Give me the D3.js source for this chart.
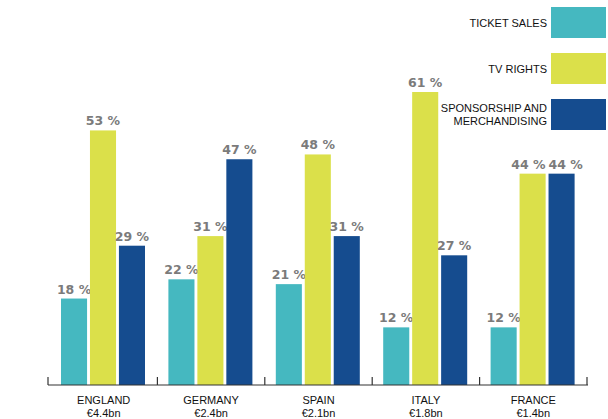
<!DOCTYPE html>
<html>
<head>
<meta charset="utf-8">
<script src="https://cdn.jsdelivr.net/npm/d3@7"></script>
<style>
  body { margin: 0; background: #fff; }
  svg { display: block; }
</style>
</head>
<body>
<div id="chart"></div>
<script>
// data
var countries = ['ENGLAND', 'GERMANY', 'SPAIN', 'ITALY', 'FRANCE'];
var totals = ['€4.4bn', '€2.4bn', '€2.1bn', '€1.8bn', '€1.4bn'];
var seriesNames = ['TICKET SALES', 'TV RIGHTS', 'SPONSORSHIP AND\nMERCHANDISING'];
var seriesColors = ['#45b8c0', '#dbe04a', '#154c8f'];
var ticketSales = [18, 22, 21, 12, 12];
var tvRights = [53, 31, 48, 61, 44];
var sponsorship = [29, 47, 31, 27, 44];

var series = [ticketSales, tvRights, sponsorship];

var width = 608,
    height = 419,
    baseline = 385;

var svg = d3.select('#chart').append('svg')
  .attr('width', width)
  .attr('height', height);

var x0 = d3.scaleBand()
  .domain(countries)
  .range([50, 587]);

var x1 = d3.scaleBand()
  .domain(d3.range(series.length))
  .range([11, 95])
  .paddingInner(0.1);

var y = d3.scaleLinear()
  .domain([0, 61])
  .range([baseline, 92]);

// bars
var groups = svg.selectAll('.group')
  .data(countries)
  .enter().append('g')
  .attr('class', 'group')
  .attr('transform', function(d) { return 'translate(' + x0(d) + ',0)'; });

groups.each(function(c, ci) {
  var g = d3.select(this);
  var labels = [];
  series.forEach(function(s, si) {
    g.append('rect')
      .attr('x', x1(si))
      .attr('y', y(s[ci]))
      .attr('width', x1.bandwidth())
      .attr('height', baseline - y(s[ci]))
      .style('fill', seriesColors[si]);

    var t = g.append('text')
      .attr('x', x1(si) + x1.bandwidth() / 2)
      .attr('y', y(s[ci]) - 5)
      .style('text-anchor', 'middle')
      .style('font-family', '"DejaVu Sans", sans-serif')
      .style('font-weight', 'bold')
      .style('font-size', '12.5px')
      .style('fill', '#7b7b7b')
      .text(s[ci] + ' %');
    labels.push({node: t, cx: x1(si) + x1.bandwidth() / 2, v: s[ci]});
  });

  // push apart labels that sit at the same height and would collide
  for (var i = 1; i < labels.length; i++) {
    var a = labels[i - 1], b = labels[i];
    if (Math.abs(y(a.v) - y(b.v)) < 14) {
      var w = a.node.node().getComputedTextLength() / 2 + b.node.node().getComputedTextLength() / 2 + 3;
      var gap = b.cx - a.cx;
      if (gap < w) {
        var shift = (w - gap) / 2;
        a.node.attr('x', a.cx - shift);
        b.node.attr('x', b.cx + shift);
      }
    }
  }

  g.append('text')
    .attr('x', x0.bandwidth() / 2)
    .attr('y', 404)
    .style('text-anchor', 'middle')
    .style('font-family', '"Liberation Sans", Arial, sans-serif')
    .style('font-size', '11px')
    .style('fill', '#111')
    .text(c);

  g.append('text')
    .attr('x', x0.bandwidth() / 2)
    .attr('y', 417)
    .style('text-anchor', 'middle')
    .style('font-family', '"Liberation Sans", Arial, sans-serif')
    .style('font-size', '11px')
    .style('fill', '#111')
    .text(totals[ci]);
});

// axis line with upward ticks at band edges
var axisG = svg.append('g').attr('transform', 'translate(0,' + baseline + ')');
axisG.append('line')
  .attr('x1', 48).attr('x2', 588)
  .attr('y1', 0).attr('y2', 0)
  .style('stroke', '#333').style('stroke-width', 1.2);

var edges = countries.map(function(d) { return x0(d); }).concat([x0.range()[1]]);
edges[0] = 48;
axisG.selectAll('.tick')
  .data(edges)
  .enter().append('line')
  .attr('x1', function(d) { return d; })
  .attr('x2', function(d) { return d; })
  .attr('y1', 0).attr('y2', -8)
  .style('stroke', '#333').style('stroke-width', 1.2);

// legend
var legend = svg.append('g');
seriesNames.forEach(function(name, i) {
  var top = 7 + i * 46;
  legend.append('rect')
    .attr('x', 551).attr('y', top)
    .attr('width', 55).attr('height', 31)
    .style('fill', seriesColors[i]);

  var lines = name.split('\n');
  var t = legend.append('text')
    .attr('x', 547)
    .attr('y', top + 15.5 - (lines.length - 1) * 6.5 + 4)
    .style('text-anchor', 'end')
    .style('font-family', '"Liberation Sans", Arial, sans-serif')
    .style('font-size', '11px')
    .style('fill', '#111');
  lines.forEach(function(l, li) {
    t.append('tspan')
      .attr('x', 547)
      .attr('dy', li === 0 ? 0 : 13)
      .text(l);
  });
});
</script>
</body>
</html>
